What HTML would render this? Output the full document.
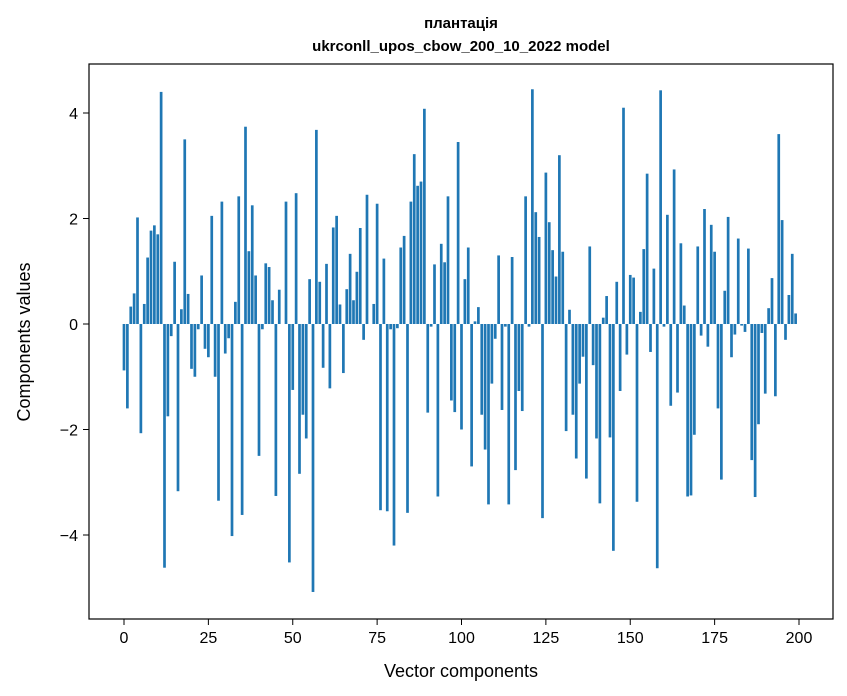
<!DOCTYPE html>
<html><head><meta charset="utf-8"><style>
body{margin:0;background:#fff;}
svg{display:block;font-family:"Liberation Sans","DejaVu Sans",sans-serif;}
</style></head><body>
<svg id="chart" width="847" height="696" viewBox="0 0 847 696">
<rect width="847" height="696" fill="#fff"/>
<text x="461" y="28" text-anchor="middle" font-size="15" font-weight="bold">плантація</text>
<text x="461" y="51" text-anchor="middle" font-size="15" font-weight="bold">ukrconll_upos_cbow_200_10_2022 model</text>
<g id="bars"></g>
<g id="axes"></g>
<rect x="89" y="64" width="744" height="555" fill="none" stroke="#000" stroke-width="1.2"/>
<text x="461" y="677" text-anchor="middle" font-size="18">Vector components</text>
<text x="0" y="0" transform="translate(30,342) rotate(-90)" text-anchor="middle" font-size="18">Components values</text>
</svg>
<script>
const values = [-0.88,-1.6,0.33,0.58,2.02,-2.07,0.38,1.26,1.77,1.87,1.7,4.4,-4.62,-1.75,-0.23,1.18,-3.17,0.28,3.5,0.57,
-0.85,-1.0,-0.1,0.92,-0.47,-0.63,2.05,-1.0,-3.35,2.32,-0.56,-0.27,-4.02,0.42,2.42,-3.62,3.74,1.38,2.25,0.92,
-2.5,-0.1,1.15,1.08,0.45,-3.26,0.65,0.0,2.32,-4.52,-1.25,2.48,-2.84,-1.72,-2.17,0.85,-5.08,3.68,0.8,-0.83,
1.14,-1.22,1.83,2.05,0.37,-0.93,0.66,1.33,0.45,0.99,1.82,-0.3,2.45,0.0,0.38,2.28,-3.53,1.24,-3.55,-0.1,
-4.2,-0.08,1.45,1.67,-3.58,2.32,3.22,2.62,2.7,4.08,-1.68,-0.05,1.13,-3.27,1.52,1.17,2.42,-1.45,-1.67,3.45,
-2.0,0.85,1.45,-2.7,0.05,0.32,-1.72,-2.38,-3.42,-1.13,-0.28,1.3,-1.63,-0.05,-3.42,1.27,-2.77,-1.27,-1.65,2.42,
-0.05,4.45,2.12,1.65,-3.68,2.87,1.93,1.4,0.9,3.2,1.37,-2.03,0.27,-1.72,-2.55,-1.13,-0.62,-2.93,1.47,-0.78,
-2.17,-3.4,0.12,0.53,-2.15,-4.3,0.8,-1.27,4.1,-0.58,0.93,0.88,-3.37,0.23,1.42,2.85,-0.53,1.05,-4.63,4.43,
-0.05,2.07,-1.55,2.93,-1.3,1.53,0.35,-3.27,-3.25,-2.1,1.47,-0.22,2.18,-0.43,1.88,1.37,-1.6,-2.95,0.63,2.03,
-0.63,-0.2,1.62,-0.03,-0.15,1.43,-2.58,-3.28,-1.9,-0.17,-1.32,0.3,0.87,-1.37,3.6,1.97,-0.3,0.55,1.33,0.2];
const xTicks = [0,25,50,75,100,125,150,175,200];
const yTicks = [-4,-2,0,2,4];
const yTickLabels = ["\u22124","\u22122","0","2","4"];

const NS="http://www.w3.org/2000/svg";
function xs(v){return 124 + v*3.375;}
function ys(v){return 324 - v*52.75;}
const bars=document.getElementById('bars');
values.forEach((v,i)=>{
  const r=document.createElementNS(NS,'rect');
  
  
  const w=0.8*3.375;
  r.setAttribute('x',xs(i)-w/2);
  r.setAttribute('width',w);
  r.setAttribute('y',Math.min(ys(v),ys(0)));
  r.setAttribute('height',Math.abs(ys(v)-ys(0)));
  r.setAttribute('fill','#1f77b4');
  bars.appendChild(r);
});
const axes=document.getElementById('axes');
xTicks.forEach(t=>{
  const l=document.createElementNS(NS,'line');
  
  
  l.setAttribute('x1',xs(t));l.setAttribute('x2',xs(t));
  l.setAttribute('y1',619);l.setAttribute('y2',625);
  l.setAttribute('stroke','#000');
  axes.appendChild(l);
  const tx=document.createElementNS(NS,'text');
  
  
  tx.setAttribute('x',xs(t));tx.setAttribute('y',643);
  tx.setAttribute('text-anchor','middle');tx.setAttribute('font-size','16');
  tx.textContent=t;
  axes.appendChild(tx);
});
yTicks.forEach((t,i)=>{
  const l=document.createElementNS(NS,'line');
  
  
  l.setAttribute('x1',83);l.setAttribute('x2',89);
  l.setAttribute('y1',ys(t));l.setAttribute('y2',ys(t));
  l.setAttribute('stroke','#000');
  axes.appendChild(l);
  const tx=document.createElementNS(NS,'text');
  
  
  tx.setAttribute('x',78);tx.setAttribute('y',ys(t)+6);
  tx.setAttribute('text-anchor','end');tx.setAttribute('font-size','16');
  tx.textContent=yTickLabels[i];
  axes.appendChild(tx);
});
</script>
</body></html>
